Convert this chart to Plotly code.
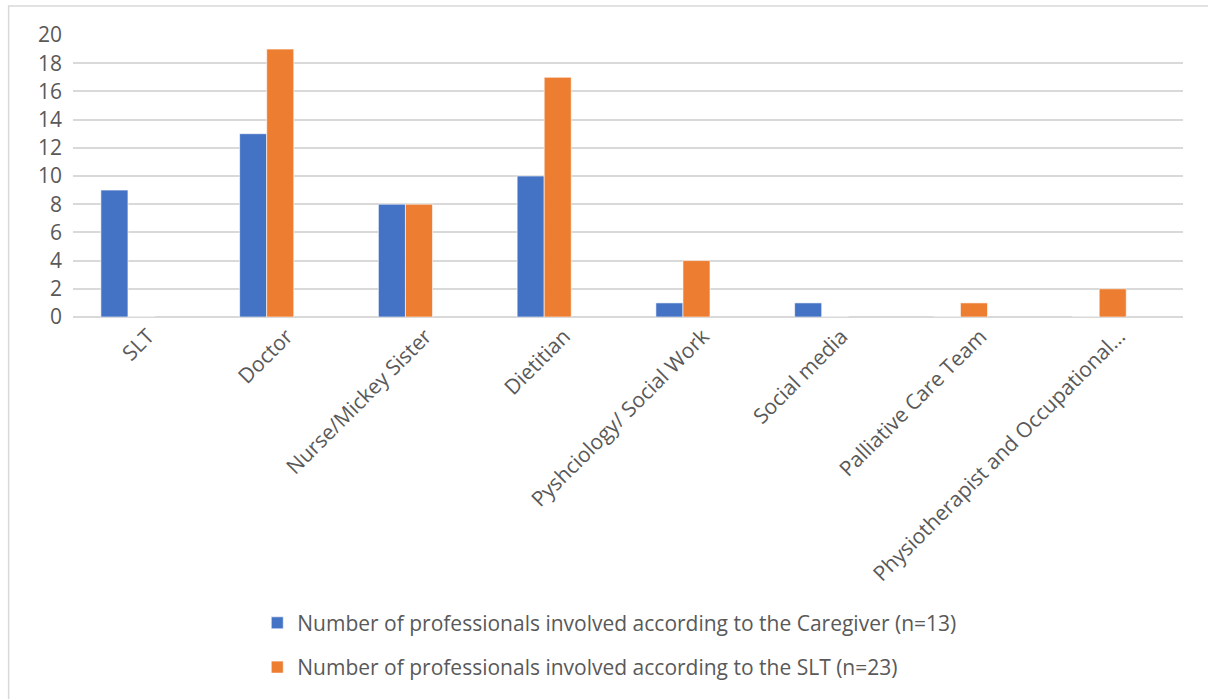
import plotly.graph_objects as go

categories = ["SLT", "Doctor", "Nurse/Mickey Sister", "Dietitian", "Pyshciology/ Social Work",
              "Social media", "Palliative Care Team", "Physiotherapist and Occupational…"]
caregiver = [9, 13, 8, 10, 1, 1, 0, 0]
slt = [0, 19, 8, 17, 4, 0, 1, 2]
series_names = ["Number of professionals involved according to the Caregiver (n=13)",
                "Number of professionals involved according to the SLT (n=23)"]
y_ticks = [0, 2, 4, 6, 8, 10, 12, 14, 16, 18, 20]

FONT = "'Open Sans', sans-serif"
GREY = "#595959"
FS = 21

fig = go.Figure()
fig.add_trace(go.Bar(x=categories, y=caregiver, name=series_names[0], legendgroup="a",
                     marker=dict(color="#4472C4", line=dict(color="white", width=0.6))))
fig.add_trace(go.Bar(x=categories, y=slt, name=series_names[1], legendgroup="b",
                     marker=dict(color="#ED7D31", line=dict(color="white", width=0.6))))

fig.update_layout(
    width=1208, height=699,
    margin=dict(l=73, r=25, t=35, b=382, autoexpand=False),
    paper_bgcolor="white", plot_bgcolor="white",
    barmode="group", bargap=0.61, bargroupgap=0,
    font=dict(family=FONT, size=FS, color=GREY),
    legend=dict(orientation="v", x=0.166, y=-1.013, xanchor="left", yanchor="top",
                bgcolor="rgba(0,0,0,0)",
                font=dict(size=FS, color=GREY), traceorder="grouped", tracegroupgap=14,
                itemwidth=30),
    showlegend=True,
)
fig.update_xaxes(type="category", range=[-0.396, 7.604], tickangle=-45,
                 showgrid=False, showline=False, ticks="", ticklabelstandoff=2,
                 ticklabelshift=20, tickfont=dict(size=FS, color=GREY))
fig.update_yaxes(range=[0, 20], tickvals=y_ticks, showgrid=True, gridcolor="#d9d9d9", gridwidth=1.5,
                 zeroline=True, zerolinecolor="#d9d9d9", zerolinewidth=1.5,
                 showline=False, ticks="", ticklabelstandoff=10, tickfont=dict(size=FS, color=GREY))

fig.add_shape(type="rect", xref="paper", yref="paper", x0=-0.058, x1=1.05, y0=-1.6, y1=1.103,
              line=dict(color="#d9d9d9", width=1.5), fillcolor="rgba(0,0,0,0)", layer="below")

fig.write_html("out.html")
